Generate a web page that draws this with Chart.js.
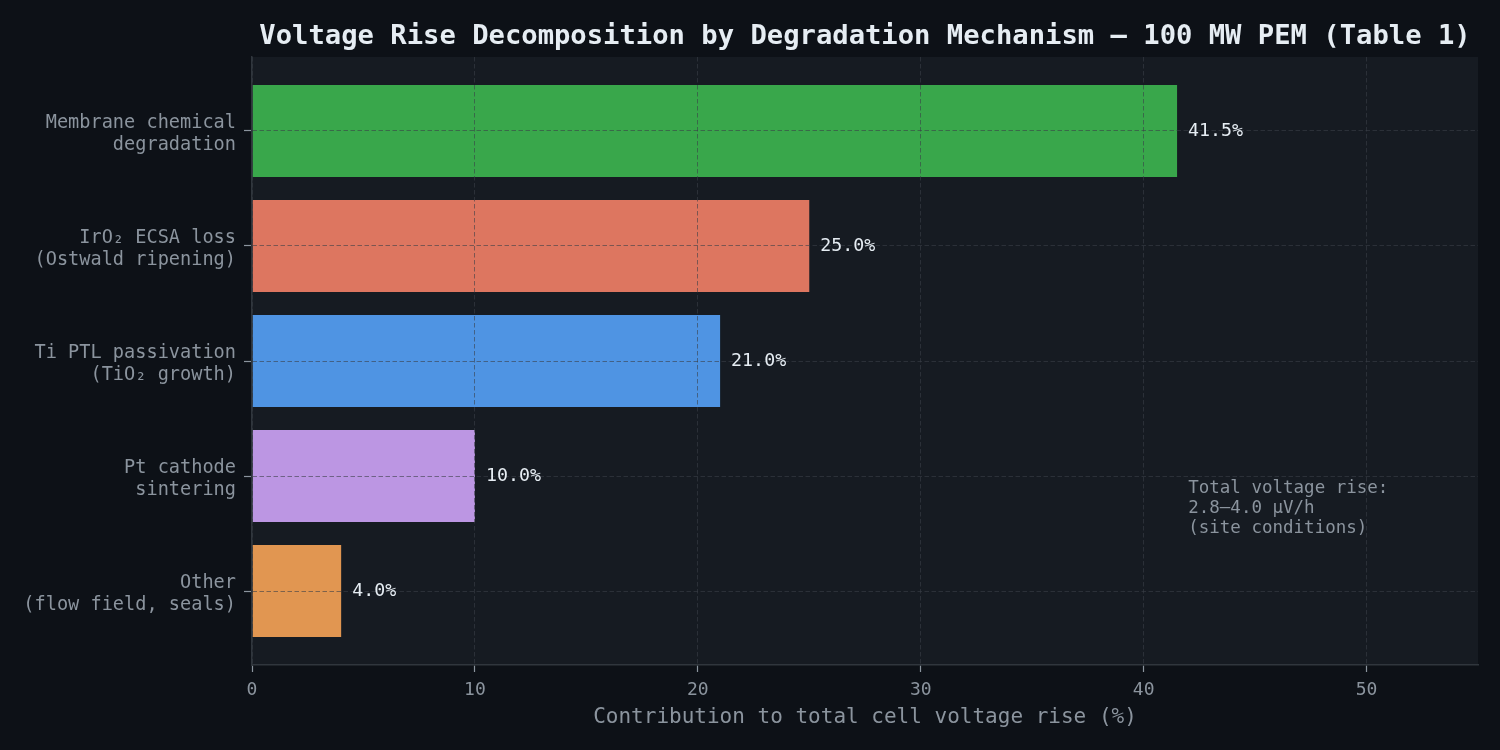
<!DOCTYPE html>
<html>
<head>
<meta charset="utf-8">
<script src="https://cdn.jsdelivr.net/npm/chart.js@4/dist/chart.umd.min.js"></script>
<style>
  html, body { margin: 0; padding: 0; background: #0d1117; }
  #wrap { width: 1500px; height: 750px; }
</style>
</head>
<body>
<div id="wrap"><canvas id="chart-bars"></canvas></div>
<script>
// ── Data ─────────────────────────────────────────────────────────────
const mechanisms = [
  ['Membrane chemical', 'degradation'],
  ['IrO\u2082 ECSA loss', '(Ostwald ripening)'],
  ['Ti PTL passivation', '(TiO\u2082 growth)'],
  ['Pt cathode', 'sintering'],
  ['Other', '(flow field, seals)']
];
const shares    = [41.5, 25.0, 21.0, 10.0, 4.0];
const barColors = ['#39a74b', '#dd7660', '#4f94e3', '#bc96e3', '#e19651'];
const xTicks    = [0, 10, 20, 30, 40, 50];
const titleText = 'Voltage Rise Decomposition by Degradation Mechanism \u2014 100 MW PEM (Table 1)';
const noteLines = ['Total voltage rise:', '2.8\u20134.0 \u03bcV/h', '(site conditions)'];

const MONO = "'DejaVu Sans Mono', 'Liberation Mono', monospace";
const GRID = 'rgba(58,64,72,0.6)';

// plottområdets bakgrund + titel + etiketter
const decor = {
  id: 'decor',
  beforeDraw(chart) {
    const { ctx, chartArea: a } = chart;
    ctx.save();
    ctx.fillStyle = '#161b22';
    ctx.fillRect(a.left, a.top, a.right - a.left, a.bottom - a.top);
    ctx.restore();
  },
  afterDraw(chart) {
    const { ctx, chartArea: a, scales } = chart;
    ctx.save();
    // titel, centrerad över plottytan
    ctx.font = 'bold 27.2px ' + MONO;
    ctx.fillStyle = '#e6edf3';
    ctx.textAlign = 'center';
    ctx.textBaseline = 'middle';
    ctx.fillText(titleText, (a.left + a.right) / 2, 37);

    // värden vid staplarnas ände
    ctx.font = '18.3px ' + MONO;
    ctx.textAlign = 'left';
    const meta = chart.getDatasetMeta(0);
    meta.data.forEach((bar, i) => {
      ctx.fillText(shares[i].toFixed(1) + '%', bar.x + 11, bar.y);
    });

    // anteckning
    ctx.font = '17.5px ' + MONO;
    ctx.fillStyle = '#8b949e';
    const nx = scales.x.getPixelForValue(42);
    const ny = scales.y.getPixelForValue(3.1) + 1;
    noteLines.forEach((t, i) => ctx.fillText(t, nx, ny + i * 20));
    ctx.restore();
  }
};

new Chart(document.getElementById('chart-bars').getContext('2d'), {
  type: 'bar',
  data: {
    datasets: [{
      data: shares.map((v, i) => ({ x: v, y: i })),
      backgroundColor: barColors,
      borderWidth: 0,
      barPercentage: 0.8,
      categoryPercentage: 1.0
    }]
  },
  options: {
    indexAxis: 'y',
    responsive: true,
    maintainAspectRatio: false,
    animation: false,
    devicePixelRatio: 1,
    layout: { padding: { top: 57, right: 22, bottom: 20, left: 0 } },
    plugins: { legend: { display: false }, tooltip: { enabled: false }, title: { display: false } },
    scales: {
      x: {
        type: 'linear', min: 0, max: 55, offset: false,
        afterBuildTicks: s => { s.ticks = xTicks.map(v => ({ value: v })); },
        afterFit: s => { s.height = 65; },
        grid: { color: GRID, z: 1, offset: false, tickColor: '#8b949e', tickLength: 7, tickWidth: 1.2 },
        border: { color: '#30363d', width: 1.5, dash: [4.5, 2.5], z: 2 },
        ticks: { color: '#8b949e', font: { family: MONO, size: 18 }, padding: 8 },
        title: { display: true, text: 'Contribution to total cell voltage rise (%)', color: '#8b949e',
                 font: { family: MONO, size: 21 }, padding: 0 }
      },
      y: {
        type: 'linear', min: -0.643, max: 4.643, reverse: true, offset: false,
        afterBuildTicks: s => { s.ticks = mechanisms.map((_, i) => ({ value: i })); },
        afterFit: s => { s.width = 252; },
        grid: { color: GRID, z: 1, offset: false, tickColor: '#8b949e', tickLength: 8, tickWidth: 1.2 },
        border: { color: '#30363d', width: 1.5, dash: [4.5, 2.5], z: 2 },
        ticks: {
          color: '#8b949e', font: { family: MONO, size: 18.6, lineHeight: 1.19 }, padding: 8,
          labelOffset: 3,
          callback: v => mechanisms[v] || ''
        }
      }
    }
  },
  plugins: [decor]
});
</script>
</body>
</html>
